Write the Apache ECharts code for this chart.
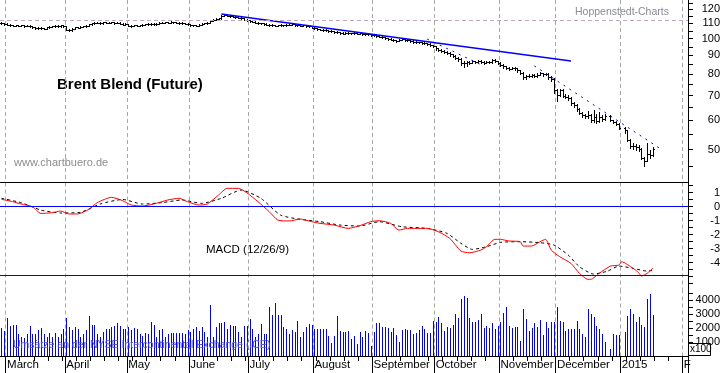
<!DOCTYPE html>
<html><head><meta charset="utf-8">
<script src="https://cdn.jsdelivr.net/npm/echarts@6/dist/echarts.min.js"></script>
<style>html,body{margin:0;padding:0;background:#fff}#c{width:723px;height:373px}</style>
</head><body><div id="c"></div>
<script>
// ---------- DATA ----------
const monthLabels = ['March','April','May','June','July','August','September','October','November','December','2015','F'];

const closes = [
110.2,109.6,109.0,108.6,108.4,108.8,108.5,108.6,108.2,108.4,
108.0,107.2,106.6,107.0,106.8,106.5,107.3,107.6,107.9,108.3,
108.1,108.6,108.0,105.6,105.2,106.4,107.2,107.0,107.8,108.0,
108.3,109.3,110.0,110.2,110.4,110.0,110.6,110.3,110.5,110.8,
110.1,110.4,109.6,109.2,109.5,108.4,108.1,108.6,108.5,108.7,
109.0,109.3,109.6,109.5,109.4,109.8,110.2,110.4,110.7,110.5,
110.9,110.6,110.4,110.0,110.2,109.8,109.6,108.9,108.6,108.4,
109.2,109.6,109.9,110.2,111.8,112.3,112.9,113.4,115.3,115.8,
115.5,115.2,114.8,114.3,114.0,113.6,112.4,112.0,111.6,111.0,
110.5,110.2,109.9,109.6,109.2,109.0,108.6,108.4,108.7,108.9,
108.6,108.9,109.2,109.4,108.8,109.1,108.3,108.6,108.2,108.0,
107.0,106.6,106.0,105.8,105.3,105.6,105.0,104.8,104.3,103.9,
103.6,103.2,103.6,103.3,103.4,103.7,103.0,103.3,102.8,103.1,
102.7,102.4,102.0,101.4,101.2,100.8,100.3,100.0,99.4,99.0,
98.8,99.2,99.6,99.3,99.0,98.6,98.0,97.6,97.8,97.2,
97.0,96.8,96.0,95.2,94.0,93.4,92.6,92.0,91.4,90.6,
89.6,88.8,88.0,86.0,85.6,86.4,86.0,86.8,86.4,87.0,
86.5,86.0,86.6,86.2,87.6,86.8,86.0,84.8,84.0,83.2,
82.8,83.4,83.0,82.0,80.8,78.6,79.0,79.4,79.6,79.1,
79.8,80.6,80.0,80.2,78.6,77.8,72.6,70.2,72.5,70.0,
69.6,69.1,66.8,66.0,64.2,63.0,61.9,61.6,62.0,60.0,
61.2,59.9,61.4,60.4,61.7,null,60.2,59.5,58.8,57.3,
null,56.4,53.1,51.1,51.2,50.9,50.1,47.4,46.6,48.7,48.3,50.2];

const highs = [
111.2,110.5,109.9,109.3,109.0,109.2,109.1,109.0,108.9,108.8,
108.7,108.2,107.5,107.4,107.3,107.1,107.6,108.0,108.3,108.6,
108.7,108.9,108.8,108.1,106.0,106.7,107.5,107.6,108.1,108.5,
108.7,109.6,110.4,110.6,110.9,110.7,110.9,110.9,110.9,111.2,
111.0,110.8,110.6,109.9,109.9,109.6,108.7,108.9,108.9,109.1,
109.4,109.7,110.0,109.9,109.9,110.2,110.6,110.8,111.0,111.0,
111.3,111.2,110.9,110.7,110.6,110.4,110.1,109.8,109.2,108.9,
109.5,109.9,110.3,110.6,112.2,112.8,113.4,113.9,116.0,116.3,
116.1,115.8,115.5,115.0,114.7,114.3,113.8,112.8,112.3,111.9,
111.3,110.8,110.5,110.2,109.9,109.6,109.3,108.9,109.1,109.3,
109.2,109.3,109.6,109.8,109.6,109.5,109.3,109.0,108.9,108.5,
108.2,107.3,106.9,106.3,106.0,106.0,105.8,105.3,105.0,104.6,
104.2,103.9,104.0,103.9,103.8,104.1,103.9,103.7,103.5,103.5,
103.4,102.9,102.7,102.2,101.7,101.5,101.1,100.6,100.2,99.7,
99.3,99.6,100.0,99.9,99.6,99.3,98.9,98.3,98.2,98.0,
97.6,97.4,97.0,96.3,95.5,94.4,93.8,93.0,92.5,91.8,
91.0,90.1,89.4,88.4,86.8,87.0,86.9,87.4,87.2,87.5,
87.3,86.9,87.1,87.0,88.0,87.9,87.1,86.3,85.2,84.4,
83.6,83.9,83.8,83.3,82.3,81.0,79.6,80.0,80.2,79.9,
80.4,81.2,80.9,80.8,80.5,79.0,78.0,72.9,73.2,72.8,
70.8,70.3,69.4,67.2,66.4,64.7,63.4,62.6,63.5,62.4,
64.0,62.4,63.4,62.2,62.5,null,61.9,60.3,59.9,59.1,
null,57.6,56.6,53.4,52.0,51.8,51.5,50.4,47.8,52.2,49.9,50.9];

const lows = [
109.6,109.2,108.6,108.1,108.0,108.2,108.1,108.2,107.8,107.9,
107.6,106.9,106.2,106.3,106.4,106.0,106.3,107.0,107.3,107.6,
107.7,107.8,107.7,105.2,104.6,105.0,106.1,106.6,106.8,107.4,
107.7,108.1,109.0,109.7,109.9,109.6,109.8,109.9,110.0,110.2,
109.8,109.9,109.3,108.8,108.9,108.0,107.7,107.9,108.1,108.2,
108.5,108.8,109.1,109.1,109.0,109.2,109.6,109.9,110.1,110.1,
110.3,110.2,110.0,109.6,109.7,109.4,109.2,108.5,108.2,108.0,
108.2,109.0,109.3,109.6,110.0,111.5,112.0,112.6,113.2,115.0,
115.0,114.7,114.3,113.8,113.5,113.0,112.0,111.5,111.1,110.6,
110.1,109.8,109.4,109.2,108.8,108.5,108.1,107.9,108.1,108.4,
108.2,108.3,108.6,108.9,108.4,108.5,107.9,108.0,107.8,107.5,
106.6,106.1,105.6,105.3,104.8,105.0,104.5,104.3,103.8,103.4,
103.1,102.7,102.9,102.9,102.9,103.1,102.6,102.7,102.4,102.5,
102.2,101.9,101.5,100.9,100.7,100.2,99.8,99.4,98.9,98.5,
98.2,98.5,98.9,98.8,98.5,98.1,97.5,97.1,97.2,96.7,
96.5,96.2,95.4,94.6,93.3,92.6,92.0,91.3,90.7,89.9,
88.9,88.0,87.2,84.8,83.8,84.2,85.3,85.7,85.8,86.0,
85.9,85.4,85.6,85.7,86.0,86.2,85.5,84.2,83.4,82.5,
82.1,82.5,82.4,81.4,80.1,77.8,77.9,78.6,78.9,78.5,
78.8,79.6,79.4,79.5,77.9,76.8,71.3,67.6,69.8,69.4,
68.8,68.2,66.1,65.3,63.5,62.3,61.2,60.8,61.0,59.2,
59.5,59.0,59.5,59.8,60.1,null,59.6,58.9,58.2,56.7,
null,55.6,52.7,50.5,50.2,49.7,49.4,47.0,45.2,46.5,47.3,48.1];

// volume in units of 100
const volumes = [
2000,1800,2750,2150,2200,2200,1600,1350,1300,1600,
2150,1600,1600,1850,2000,1600,1350,1650,1350,1650,
1350,1600,1900,2700,2100,1850,2100,1950,1350,1600,
1850,2850,2250,2200,1600,1350,1700,1950,1950,2100,
2150,2350,2150,1950,1950,2100,1850,2000,1900,1600,
1400,1650,1600,2450,2250,1350,1850,1950,1350,1600,
1650,1650,1650,1650,1650,1600,1850,1750,1950,2100,
1800,2100,1750,1350,3650,1350,2100,2350,2350,2450,
1950,2200,2150,2150,1750,1350,2150,2150,2650,1950,
1350,1600,2300,1600,1600,3500,2900,3800,2900,2900,
2100,1950,1600,1850,1750,2500,1350,1750,2100,2300,
2200,1950,1950,1950,1900,1900,1450,950,1450,2850,
1800,1750,1750,1800,1250,1450,850,1750,1380,1800,
1650,740,1700,2380,2330,2100,2050,1980,1740,2020,
1500,1020,1860,1900,1860,1860,1570,1620,1860,2170,
1900,1620,1650,2500,2450,2810,2380,1810,2100,1980,
2210,3000,2710,4050,4280,4120,2690,2400,2400,2570,
3000,2020,2170,1980,2330,1900,2170,2450,3090,3520,
2170,1980,2100,2100,1090,3360,2640,1790,2000,2330,
2100,2570,1500,2450,1980,2450,2450,3520,2500,2450,
1790,1930,1930,1930,2500,1930,1570,1380,3360,3000,
2810,2170,1930,1570,1020,0,480,1550,1500,1500,
0,1740,2860,3360,3000,2450,2810,2210,2100,4070,4430,2930];

// MACD (red) and signal (black dashed): [trading-day index, value]
const macdLine = [[0,0.53],[4,0.36],[7,0.19],[11,0],[14,-0.48],[18,-0.43],[21,-0.31],[24,-0.52],[27,-0.52],[31,-0.19],[34,0.29],[39,0.67],[43,0.43],[46,0.12],[50,0.05],[54,0.19],[59,0.48],[63,0.6],[66,0.36],[70,0.12],[73,0.19],[77,0.83],[80,1.31],[84,1.31],[87,1.0],[91,0.36],[95,-0.36],[98,-0.95],[102,-1.02],[106,-0.88],[110,-1.07],[113,-1.19],[118,-1.31],[123,-1.55],[127,-1.36],[131,-1.07],[134,-1.0],[138,-1.19],[141,-1.67],[144,-1.55],[151,-1.55],[155,-1.79],[159,-2.26],[163,-3.17],[166,-3.29],[170,-3.1],[172,-2.86],[175,-2.33],[177,-2.33],[180,-2.45],[184,-2.5],[185,-2.81],[188,-2.81],[191,-2.5],[193,-2.33],[195,-3.1],[198,-3.57],[202,-4.05],[205,-4.76],[208,-5.19],[209,-5.19],[212,-4.76],[216,-4.24],[219,-4.17],[220,-3.93],[224,-4.4],[226,-4.71],[227,-4.95],[229,-4.76],[231,-4.4]];
const signalLine = [[0,0.6],[7,0.29],[14,-0.24],[21,-0.45],[28,-0.4],[35,0.19],[43,0.52],[50,0.19],[57,0.29],[64,0.48],[71,0.24],[78,0.6],[85,1.19],[92,0.6],[99,-0.6],[106,-0.9],[113,-1.07],[120,-1.31],[127,-1.38],[134,-1.07],[142,-1.43],[151,-1.55],[158,-1.9],[163,-2.62],[167,-3.05],[172,-2.86],[177,-2.55],[184,-2.5],[191,-2.57],[196,-2.74],[201,-3.45],[205,-4.29],[210,-4.81],[215,-4.6],[219,-4.24],[224,-4.4],[229,-4.6],[231,-4.55]];

// trend lines drawn on the price chart: [trading-day index, price]
const trendSolid = [[78,116.6],[202,86.9]];
const trendDotted1 = [[151,99.7],[171,84.3]];
const trendDotted2 = [[189,84.3],[234,50.06]];
const resistanceLevel = 112.3;
const macdSupport = -4.9;

const priceTicks = [50,60,70,80,90,100,110,120];
const priceMinorTicks = [45,50,55,60,65,70,75,80,85,90,95,100,105,110,115,120,125];
const macdTicks = [-4,-3,-2,-1,0,1];
const macdMinorTicks = [-5.5,-5,-4.5,-4,-3.5,-3,-2.5,-2,-1.5,-1,-0.5,0,0.5,1,1.5];
const volTicks = [1000,2000,3000,4000];
const volMinorTicks = [500,1000,1500,2000,2500,3000,3500,4000,4500];
const priceMin = 40.68, priceMax = 127.28;
const macdMin = -5.914, macdMax = 1.729;
const volMax = 4750;

// ---------- categories: weekdays 27 Feb 2014 .. 3 Feb 2015 ----------
const days = [];
for (let d = new Date(Date.UTC(2014,1,27)); d <= new Date(Date.UTC(2015,1,3)); d.setUTCDate(d.getUTCDate()+1)) {
  const wd = d.getUTCDay();
  if (wd !== 0 && wd !== 6) days.push(d.toISOString().slice(0,10));
}
const monthStart = {};
let mCount = 0;
for (let i = 1; i < days.length; i++) {
  if (days[i].slice(5,7) !== days[i-1].slice(5,7)) monthStart[i] = monthLabels[mCount++];
}
const isMonth = (i) => monthStart[i] !== undefined;
const isMonday = (i) => new Date(days[i] + 'T00:00:00Z').getUTCDay() === 1;

const L = Math.log10;
const ohlc = [];
let prev = null;
closes.forEach((c, i) => {
  if (c == null) return;
  const o = prev == null ? c : prev;
  ohlc.push([i, L(o), L(highs[i]), L(lows[i]), L(c)]);
  prev = c;
});
const volData = volumes.map((v, i) => [i, v]);

const FONT = "'Liberation Sans', Arial, sans-serif";
const dashV = {color:'#a3aaa0', type:[4,3], width:1};

function catAxis(grid, extra) {
  return Object.assign({
    type:'category', gridIndex:grid, data:days, boundaryGap:true, position:'bottom',
    axisLine:{show:true, lineStyle:{color:'#000', width:1}},
    axisTick:{show:false}, axisLabel:{show:false},
    splitLine:{show:true, interval:(i)=>isMonth(i), lineStyle:dashV}
  }, extra || {});
}
function valAxis(grid, min, max, labels, ticks, fmt) {
  return {
    type:'value', gridIndex:grid, position:'right', min:min, max:max, scale:true,
    axisLine:{show:true, lineStyle:{color:'#000', width:1}},
    axisTick:{show:true, inside:false, length:5, customValues:ticks, lineStyle:{color:'#000'}},
    axisLabel:{show:true, customValues:labels, formatter:fmt, align:'right', margin:32,
      fontSize:11, fontFamily:FONT, color:'#000'},
    splitLine:{show:false}
  };
}

const option = {
  animation:false,
  backgroundColor:'#fff',
  grid:[
    {left:-1.66, right:35, top:0, height:182.5},
    {left:-1.66, right:35, top:182.5, height:107},
    {left:-1.66, right:35, top:289.5, height:66.5}
  ],
  xAxis:[
    catAxis(0),
    catAxis(1),
    catAxis(2, {
      axisTick:{show:true, interval:(i)=>isMonth(i), length:17, lineStyle:{color:'#000'}},
      axisLabel:{show:true, interval:(i)=>isMonth(i), formatter:(v,i)=>monthStart[i]||'',
        align:'left', margin:3, fontSize:11.5, fontFamily:FONT, color:'#000'}
    }),
    {type:'category', gridIndex:2, data:days, boundaryGap:true, position:'bottom',
      axisLine:{show:false}, axisLabel:{show:false}, splitLine:{show:false},
      axisTick:{show:true, interval:(i)=>isMonday(i), length:5, lineStyle:{color:'#000'}}}
  ],
  yAxis:[
    valAxis(0, L(priceMin), L(priceMax), priceTicks.map(L), priceMinorTicks.map(L), v=>String(Math.round(Math.pow(10,v)))),
    valAxis(1, macdMin, macdMax, macdTicks, macdMinorTicks, v=>String(Math.round(v))),
    valAxis(2, 0, volMax, volTicks, volMinorTicks, v=>String(Math.round(v)))
  ],
  series:[
    {type:'custom', xAxisIndex:0, yAxisIndex:0, data:ohlc, clip:true,
      encode:{x:0, y:[1,2,3,4]},
      renderItem:function(params, api){
        const i = api.value(0);
        const po = api.coord([i, api.value(1)]), ph = api.coord([i, api.value(2)]);
        const pl = api.coord([i, api.value(3)]), pc = api.coord([i, api.value(4)]);
        const x = Math.round(ph[0]) + 0.5;
        const yo = Math.round(po[1]) + 0.5, yc = Math.round(pc[1]) + 0.5;
        const st = {stroke:'#000', lineWidth:1};
        return {type:'group', children:[
          {type:'line', shape:{x1:x, y1:Math.round(ph[1]), x2:x, y2:Math.round(pl[1])+1}, style:st},
          {type:'line', shape:{x1:x-1.5, y1:yo, x2:x, y2:yo}, style:st},
          {type:'line', shape:{x1:x, y1:yc, x2:x+1.5, y2:yc}, style:st}
        ]};
      }
    },
    {type:'line', xAxisIndex:0, yAxisIndex:0, data:trendSolid.map(p=>[p[0], L(p[1])]),
      symbol:'none', lineStyle:{color:'#0000ff', width:1.5}, silent:true,
      markLine:{silent:true, symbol:'none', label:{show:false},
        lineStyle:{color:'#c0a8c0', type:[4,3], width:1},
        data:[{yAxis:L(resistanceLevel)}]}},
    {type:'line', xAxisIndex:0, yAxisIndex:0, data:trendDotted1.map(p=>[p[0], L(p[1])]),
      symbol:'none', lineStyle:{color:'#0000ff', width:1, type:[2,5]}, silent:true},
    {type:'line', xAxisIndex:0, yAxisIndex:0, data:trendDotted2.map(p=>[p[0], L(p[1])]),
      symbol:'none', lineStyle:{color:'#0000ff', width:1, type:[2,5]}, silent:true},
    {type:'line', xAxisIndex:1, yAxisIndex:1, data:signalLine, smooth:0.2,
      symbol:'none', lineStyle:{color:'#000', width:1, type:[3,3]}, silent:true},
    {type:'line', xAxisIndex:1, yAxisIndex:1, data:macdLine, smooth:0.2,
      symbol:'none', lineStyle:{color:'#ff0000', width:1}, silent:true,
      markLine:{silent:true, symbol:'none', label:{show:false},
        lineStyle:{color:'#0000ff', type:'solid', width:1},
        data:[{yAxis:0},{yAxis:macdSupport}]}},
    {type:'custom', xAxisIndex:2, yAxisIndex:2, data:volData, clip:true,
      encode:{x:0, y:1},
      renderItem:function(params, api){
        const v = api.value(1);
        if (!v) return null;
        const top = api.coord([api.value(0), v]);
        const base = api.coord([api.value(0), 0]);
        const x = Math.round(top[0]);
        const yt = Math.round(top[1]), yb = Math.round(base[1]);
        return {type:'rect', shape:{x:x, y:yt, width:1, height:yb-yt}, style:{fill:'#0000ff'}};
      }
    }
  ],
  graphic:[
    {type:'text', left:57, top:77, style:{text:'Brent Blend (Future)', font:"bold 15px 'Liberation Sans', Arial, sans-serif", fill:'#000'}},
    {type:'text', left:14, top:157, style:{text:'www.chartbuero.de', font:"11px 'Liberation Sans', Arial, sans-serif", fill:'#8c8c8c'}},
    {type:'text', left:575, top:7, style:{text:'Hoppenstedt-Charts', font:"10.5px 'Liberation Sans', Arial, sans-serif", fill:'#8a8a98'}},
    {type:'text', left:206, top:244, style:{text:'MACD (12/26/9)', font:"11.5px 'Liberation Sans', Arial, sans-serif", fill:'#000'}},
    {type:'text', left:13, top:340, z:100, style:{text:'Umsätze an der NYSE Intercontinental Exchange (ICE)', font:"10.5px 'Liberation Sans', Arial, sans-serif", fill:'#5050e0'}},
    {type:'rect', left:688, top:343, shape:{width:22, height:12}, style:{fill:'#fff', stroke:'#000', lineWidth:1}, z:100},
    {type:'text', left:690, top:344, z:101, style:{text:'x100', font:"10px 'Liberation Sans', Arial, sans-serif", fill:'#000'}}
  ]
};
const chart = echarts.init(document.getElementById('c'), null, {renderer:'canvas'});
chart.setOption(option);
</script>
</body></html>
